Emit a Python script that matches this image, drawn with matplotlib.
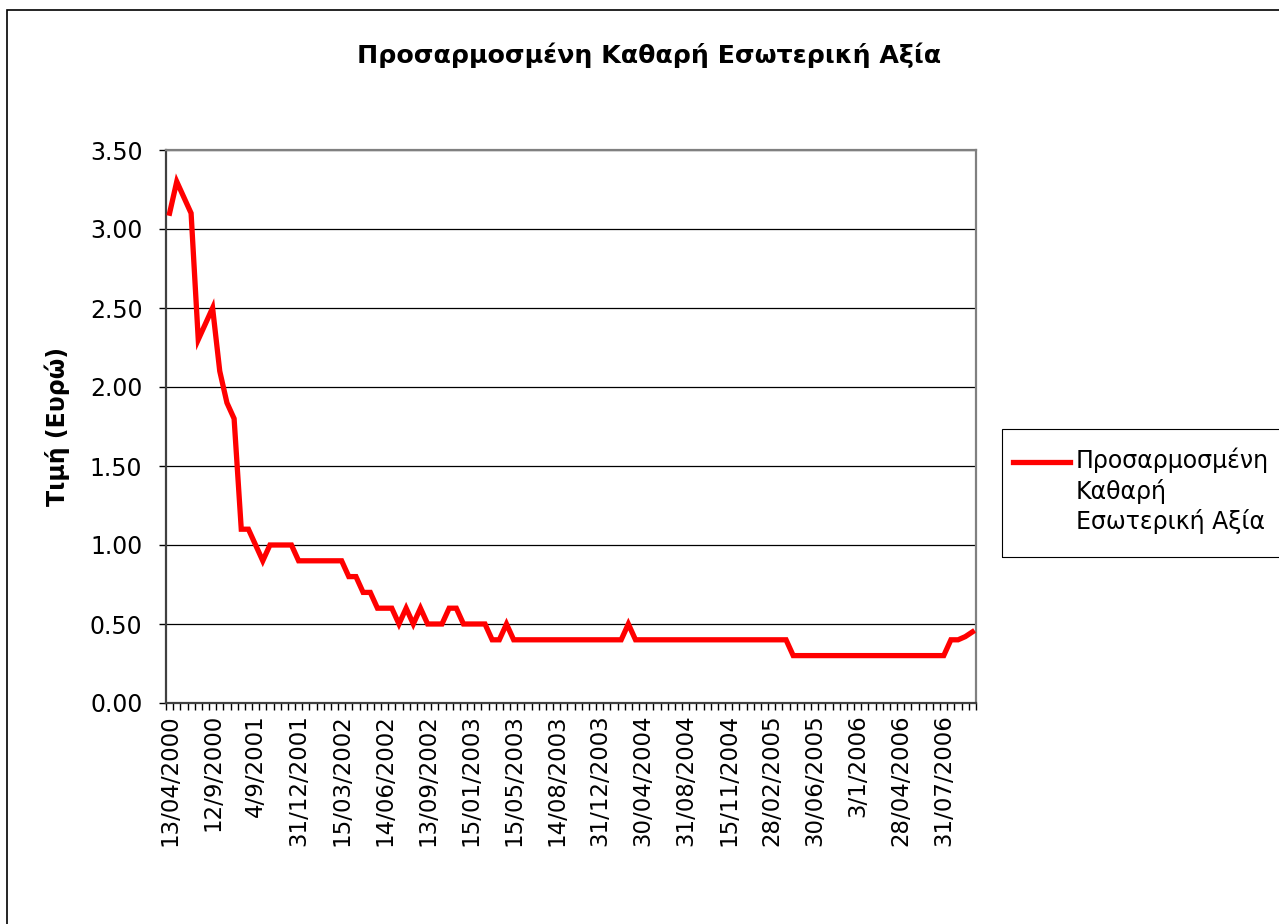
import numpy as np
import matplotlib
matplotlib.use('Agg')
import matplotlib.pyplot as plt
from matplotlib.patches import Rectangle
from matplotlib.lines import Line2D

# Δεδομένα (τιμές ανά ημερομηνία αποτίμησης)
nav = [3.1, 3.3, 3.2, 3.1, 2.3, 2.4, 2.5, 2.1, 1.9, 1.8,
       1.1, 1.1, 1.0, 0.9, 1.0, 1.0, 1.0, 1.0, 0.9, 0.9,
       0.9, 0.9, 0.9, 0.9, 0.9, 0.8, 0.8, 0.7, 0.7, 0.6,
       0.6, 0.6, 0.5, 0.6, 0.5, 0.6, 0.5, 0.5, 0.5, 0.6,
       0.6, 0.5, 0.5, 0.5, 0.5, 0.4, 0.4, 0.5, 0.4, 0.4,
       0.4, 0.4, 0.4, 0.4, 0.4, 0.4, 0.4, 0.4, 0.4, 0.4,
       0.4, 0.4, 0.4, 0.4, 0.5, 0.4, 0.4, 0.4, 0.4, 0.4,
       0.4, 0.4, 0.4, 0.4, 0.4, 0.4, 0.4, 0.4, 0.4, 0.4,
       0.4, 0.4, 0.4, 0.4, 0.4, 0.4, 0.4, 0.3, 0.3, 0.3,
       0.3, 0.3, 0.3, 0.3, 0.3, 0.3, 0.3, 0.3, 0.3, 0.3,
       0.3, 0.3, 0.3, 0.3, 0.3, 0.3, 0.3, 0.3, 0.3, 0.4,
       0.4, 0.42, 0.45]

date_labels = ['13/04/2000', '12/9/2000', '4/9/2001', '31/12/2001', '15/03/2002',
               '14/06/2002', '13/09/2002', '15/01/2003', '15/05/2003', '14/08/2003',
               '31/12/2003', '30/04/2004', '31/08/2004', '15/11/2004', '28/02/2005',
               '30/06/2005', '3/1/2006', '28/04/2006', '31/07/2006']
label_step = 6

series_name = 'Προσαρμοσμένη Καθαρή Εσωτερική Αξία'

plt.rcParams['font.family'] = ['DejaVu Sans']

W, H = 1279, 924
fig = plt.figure(figsize=(W / 100, H / 100), dpi=100)
ax = fig.add_axes([166 / W, 1 - 703 / H, (976 - 166) / W, (703 - 150) / H])

x = np.arange(len(nav))
ax.plot(x, nav, color='#ff0000', linewidth=3.8, solid_joinstyle='miter', zorder=3)

ax.set_xlim(-0.5, len(nav) - 0.5)
ax.set_ylim(0, 3.5)
yt = np.arange(0, 3.51, 0.5)
ax.set_yticks(yt)
ax.set_yticklabels([f'{v:.2f}' for v in yt], fontsize=17)
ax.yaxis.grid(True, color='black', linewidth=0.9)
ax.set_axisbelow(True)

ax.set_xticks(x[::label_step])
ax.set_xticklabels(date_labels, rotation=90, fontsize=16.5)
ax.set_xticks(np.arange(-0.5, len(nav), 1), minor=True)
ax.tick_params(axis='x', which='major', length=0, pad=8)
ax.tick_params(axis='x', which='minor', length=5, width=1, direction='out', color='black')
ax.tick_params(axis='y', length=5, width=1, direction='out', pad=12)

for s in ['left', 'bottom']:
    ax.spines[s].set_color('#404040')
    ax.spines[s].set_linewidth(1.6)
for s in ['top', 'right']:
    ax.spines[s].set_color('#808080')
    ax.spines[s].set_linewidth(1.6)

ax.set_ylabel('Τιμή (Ευρώ)', fontsize=17, fontweight='bold', labelpad=14)
fig.text(649 / W, 1 - 55 / H, series_name, ha='center', va='center',
         fontsize=18.2, fontweight='bold')

# υπόμνημα
fig.patches.append(Rectangle((1002 / W, 1 - 557 / H), 300 / W, 128 / H,
                             transform=fig.transFigure, fill=False,
                             edgecolor='black', linewidth=0.8))
fig.lines.append(Line2D([1013 / W, 1070 / W], [1 - 462 / H, 1 - 462 / H],
                        transform=fig.transFigure, color='#ff0000', linewidth=3.8))
fig.text(1076 / W, 1 - 447 / H, 'Προσαρμοσμένη\nΚαθαρή\nΕσωτερική Αξία',
         ha='left', va='top', fontsize=17, linespacing=1.3)

# πλαίσιο γραφήματος
fig.patches.append(Rectangle((7 / W, -0.05), 1.1, 1 - 10 / H + 0.05,
                             transform=fig.transFigure, fill=False,
                             edgecolor='black', linewidth=1.2))

fig.savefig('out.png', dpi=100)
